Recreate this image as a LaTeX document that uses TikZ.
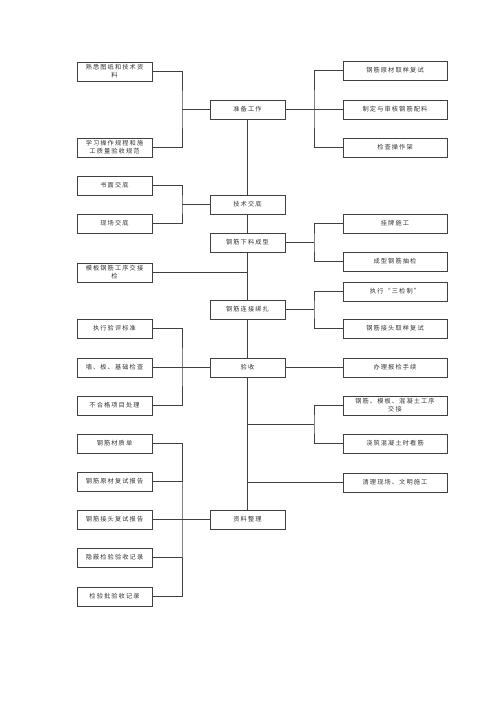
\documentclass[tikz,border=0pt]{standalone}
\usepackage{fontspec}
\newfontfamily\cjk[LetterSpace=18]{Noto Sans CJK SC}
\begin{document}
\begin{tikzpicture}[x=1pt,y=-1pt,
  box/.style={draw=black!75,line width=0.7pt,minimum height=19pt,inner sep=0pt,align=center,
    font=\cjk\fontsize{6.2}{8}\selectfont,text=black!80},
  lbox/.style={box,minimum width=75pt},
  cbox/.style={box,minimum width=75pt},
  rbox/.style={box,minimum width=104pt},
  ln/.style={draw=black!75,line width=0.7pt}]
\useasboundingbox (0,0) rectangle (500,706);
% left boxes
\node[lbox] (L1) at (114.5,71.5) {熟悉图纸和技术资\\料};
\node[lbox] (L2) at (114.5,147.5) {学习操作规程和施\\工质量验收规范};
\node[lbox] (L3) at (114.5,185.5) {书面交底};
\node[lbox] (L4) at (114.5,223.5) {现场交底};
\node[lbox] (L5) at (114.5,272.5) {模板钢筋工序交接\\检};
\node[lbox] (L6) at (114.5,328.5) {执行验评标准};
\node[lbox] (L7) at (114.5,367.5) {墙、板、基础检查};
\node[lbox] (L8) at (114.5,405.5) {不合格项目处理};
\node[lbox] (L9) at (114.5,443.5) {钢筋材质单};
\node[lbox] (L10) at (114.5,481.5) {钢筋原材复试报告};
\node[lbox] (L11) at (114.5,519.5) {钢筋接头复试报告};
\node[lbox] (L12) at (114.5,557.5) {隐蔽检验验收记录};
\node[lbox] (L13) at (114.5,596.5) {检验批验收记录};
% center boxes
\node[cbox] (C1) at (247.5,109.5) {准备工作};
\node[cbox] (C2) at (247.5,204.5) {技术交底};
\node[cbox] (C3) at (247.5,242.5) {钢筋下料成型};
\node[cbox] (C4) at (247.5,309.5) {钢筋连接绑扎};
\node[cbox] (C5) at (247.5,367.5) {验收};
\node[cbox] (C6) at (247.5,519.5) {资料整理};
% right boxes
\node[rbox] (R1) at (395,70.5) {钢筋原材取样复试};
\node[rbox] (R2) at (395,109.5) {制定与审核钢筋配料};
\node[rbox] (R3) at (395,147.5) {检查操作架};
\node[rbox] (R4) at (395,223.5) {挂牌施工};
\node[rbox] (R5) at (395,261.5) {成型钢筋抽检};
\node[rbox] (R6) at (395,291.5) {执行“三检制”};
\node[rbox] (R7) at (395,328.5) {钢筋接头取样复试};
\node[rbox] (R8) at (395,367.5) {办理报检手续};
\node[rbox] (R9) at (395,405.5) {钢筋、模板、混凝土工序\\交接};
\node[rbox] (R10) at (395,443.5) {浇筑混凝土时看筋};
\node[rbox] (R11) at (395,482.5) {清理现场、文明施工};
% junctions
\coordinate (J1) at (182,109.5);
\coordinate (J2) at (314,109.5);
\coordinate (J3) at (182,204.5);
\coordinate (J4) at (314,242.5);
\coordinate (J5) at (314,309.5);
\coordinate (J6) at (182,367.5);
\coordinate (K1) at (247.5,424);
\coordinate (J7) at (314,424);
\coordinate (K2) at (247.5,482.5);
\coordinate (J8) at (182,519.5);
% center spine
\draw[ln] (C1.south) -- (C2.north);
\draw[ln] (C2.south) -- (C3.north);
\draw[ln] (C3.south) -- (C4.north);
\draw[ln] (C4.south) -- (C5.north);
\draw[ln] (C5.south) -- (C6.north);
% brackets
\draw[ln] (L1.east) -| (J1) |- (L2.east);
\draw[ln] (J1) -- (C1.west);
\draw[ln] (R1.west) -| (J2) |- (R3.west);
\draw[ln] (C1.east) -- (J2) -- (R2.west);
\draw[ln] (L3.east) -| (J3) |- (L4.east);
\draw[ln] (J3) -- (C2.west);
\draw[ln] (R4.west) -| (J4) |- (R5.west);
\draw[ln] (C3.east) -- (J4);
\draw[ln] (L5.east) -- (L5.east -| C3.south);
\draw[ln] (R6.west) -| (J5) |- (R7.west);
\draw[ln] (C4.east) -- (J5);
\draw[ln] (L6.east) -| (J6) |- (L8.east);
\draw[ln] (L7.east) -- (C5.west);
\draw[ln] (C5.east) -- (R8.west);
\draw[ln] (R9.west) -| (J7) |- (R10.west);
\draw[ln] (K1) -- (J7);
\draw[ln] (K2) -- (R11.west);
\draw[ln] (L9.east) -| (J8) |- (L13.east);
\draw[ln] (L10.east) -- (J8 |- L10.east);
\draw[ln] (L11.east) -- (C6.west);
\draw[ln] (L12.east) -- (J8 |- L12.east);
\end{tikzpicture}
\end{document}
